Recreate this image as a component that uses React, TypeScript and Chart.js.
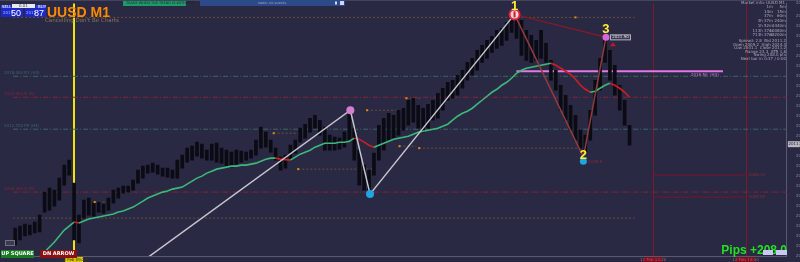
import React, { useEffect, useRef } from "react";
import { Chart, registerables } from "chart.js";
Chart.register(...registerables);

// ---------- DATA ----------
const barHigh = [
  2002.8, 2003.0, 2003.2, 2003.1, 2003.4, 2004.1, 2006.4, 2006.8, 2006.6, 2007.8,
  2009.1, 2009.6, 2007.3, 2004.1, 2005.6, 2005.8, 2005.3, 2005.4, 2005.2, 2005.8,
  2006.6, 2006.8, 2007.0, 2007.0, 2007.6, 2008.6, 2009.0, 2009.1, 2009.3, 2009.1,
  2008.8, 2008.8, 2008.6, 2009.6, 2010.1, 2010.8, 2011.0, 2011.4, 2011.2, 2010.6,
  2011.2, 2011.3, 2010.8, 2010.6, 2010.4, 2010.6, 2010.5, 2010.4, 2010.6, 2011.6,
  2012.9, 2012.4, 2011.6, 2010.8, 2009.9, 2010.1, 2011.1, 2011.6, 2012.8, 2013.2,
  2013.8, 2014.1, 2013.6, 2012.9, 2012.1, 2011.9, 2011.8, 2012.4, 2014.3, 2012.8,
  2010.6, 2009.1, 2008.6, 2010.3, 2013.1, 2013.8, 2014.3, 2014.1, 2014.6, 2014.8,
  2015.6, 2015.8, 2015.1, 2014.8, 2015.2, 2015.6, 2016.3, 2016.8, 2017.4, 2017.6,
  2018.1, 2018.6, 2019.4, 2019.8, 2020.6, 2021.1, 2021.6, 2022.0, 2022.6, 2022.8,
  2023.4, 2024.2, 2024.4, 2023.6, 2022.6, 2022.1, 2021.6, 2022.6, 2021.3, 2019.6,
  2018.6, 2017.1, 2016.1, 2015.1, 2014.1, 2012.6, 2012.1, 2014.6, 2017.6, 2019.8,
  2021.8, 2020.6, 2019.1, 2017.1, 2015.6, 2013.1,
];
const barLow = [
  2001.1, 2001.6, 2002.0, 2002.1, 2002.3, 2002.4, 2004.4, 2004.6, 2005.0, 2005.6,
  2007.1, 2008.1, 2001.6, 2001.3, 2003.8, 2004.1, 2004.0, 2004.4, 2004.3, 2004.6,
  2005.3, 2005.8, 2006.3, 2006.4, 2006.6, 2007.3, 2007.8, 2008.3, 2008.4, 2008.2,
  2008.0, 2007.9, 2007.8, 2007.8, 2008.8, 2009.4, 2009.6, 2010.0, 2009.8, 2009.6,
  2009.6, 2009.4, 2009.3, 2009.0, 2008.9, 2009.2, 2009.4, 2009.6, 2009.8, 2010.1,
  2010.8, 2010.9, 2010.4, 2009.6, 2008.6, 2008.8, 2009.6, 2010.3, 2011.4, 2011.8,
  2012.4, 2012.8, 2012.1, 2010.6, 2010.6, 2010.6, 2010.7, 2010.9, 2011.6, 2009.6,
  2007.1, 2006.6, 2006.4, 2008.1, 2009.6, 2010.6, 2011.6, 2011.8, 2012.1, 2012.6,
  2013.1, 2013.4, 2012.8, 2012.4, 2012.8, 2013.6, 2013.8, 2014.6, 2015.6, 2015.8,
  2016.1, 2016.8, 2017.6, 2018.1, 2018.6, 2019.4, 2019.8, 2020.4, 2020.8, 2021.1,
  2021.6, 2022.4, 2021.8, 2020.1, 2019.6, 2019.4, 2019.6, 2019.8, 2019.4, 2017.6,
  2016.6, 2014.6, 2013.6, 2012.6, 2011.6, 2010.8, 2010.4, 2011.6, 2014.1, 2016.6,
  2019.4, 2017.6, 2016.1, 2014.6, 2013.1, 2011.1,
];
const maStart = 4;
const maValues = [
  1999.4, 1999.9, 2000.4, 2000.9, 2001.4, 2002.0, 2002.6, 2003.0, 2003.4, 2003.3,
  2003.5, 2003.7, 2003.8, 2003.9, 2004.0, 2004.1, 2004.2, 2004.4, 2004.5, 2004.7,
  2004.9, 2005.2, 2005.5, 2005.8, 2006.0, 2006.2, 2006.4, 2006.5, 2006.7, 2006.8,
  2006.9, 2007.2, 2007.5, 2007.8, 2008.0, 2008.3, 2008.5, 2008.7, 2008.8, 2008.9,
  2009.0, 2009.0, 2009.1, 2009.1, 2009.2, 2009.3, 2009.5, 2009.7, 2009.8, 2009.8,
  2009.7, 2009.65, 2009.6, 2009.9, 2010.2, 2010.4, 2010.6, 2010.9, 2011.1, 2011.3,
  2011.3, 2011.3, 2011.4, 2011.4, 2011.5, 2011.8, 2011.7, 2011.4, 2011.1, 2010.9,
  2011.1, 2011.3, 2011.5, 2011.7, 2011.8, 2011.9, 2012.0, 2012.2, 2012.4, 2012.5,
  2012.6, 2012.7, 2012.8, 2013.0, 2013.2, 2013.6, 2014.0, 2014.3, 2014.5, 2014.8,
  2015.2, 2015.6, 2016.0, 2016.4, 2016.7, 2017.1, 2017.4, 2017.8, 2018.3, 2018.6,
  2018.8, 2018.9, 2019.0, 2019.1, 2019.2, 2019.3, 2019.1, 2018.8, 2018.5, 2018.2,
  2017.7, 2017.1, 2016.7, 2016.4, 2016.5, 2016.8, 2017.1, 2017.3, 2017.1, 2016.8,
  2016.4, 2015.9,
];
const zigzagWhiteX = [26, 68.2, 72.2, 101.6];
const zigzagWhiteY = [1999.5, 2014.6, 2006.2, 2024.2];
const zigzagBrownX = [101.6, 115.6, 120.2];
const zigzagBrownY = [2024.2, 2009.9, 2021.9];
const zigzagTopX = [101.6, 120.2];
const zigzagTopY = [2024.2, 2021.9];

const levelPrice = [2023.9, 2018.0, 2015.9, 2012.7, 2006.4, 2003.8, 2018.5, 2008.1, 2005.9, 2008.7, 2012.3, 2014.6, 2015.8, 2011.0, 2010.8, 2005.4];
const levelFrom = [-0.4, -0.4, -0.4, -0.4, -0.4, -0.4, 102, 129.8, 129.8, 57.6, 52.6, 71.6, 79.6, 78.2, 82.2, 16.2];
const levelTo = [126, 157, 157, 157, 157, 126, 144, 148.6, 148.6, 73.2, 57.6, 77.6, 82.6, 81.6, 115.2, 18.6];
const levelKind = ["dot", "teal", "red", "teal", "red", "dot", "pink", "darkred", "darkred", "dot", "dot", "dot", "dot", "dot", "dot", "dot"];
const levelLabel = ["", "2018.000 R1 (H4)", "2015.900 R (D)", "2012.700 PP (H4)", "2006.400 S (D)", "", "2018.50  (H4)", "2008.10", "2005.90", "", "", "", "", "", "", ""];

const verticalX = [12, 129.8, 148.6];
const verticalKind = ["yellow", "darkred", "darkred"];
const lastPrice = 2011.2;
const pips = "Pips +208.0";

const xTickLabels = [
  "12 Feb 09:00", "12 Feb 09:10", "12 Feb 09:20", "12 Feb 09:30", "12 Feb 09:40", "12 Feb 09:50",
  "12 Feb 10:00", "12 Feb 10:10", "12 Feb 10:20", "12 Feb 10:30", "12 Feb 10:40", "12 Feb 10:50",
  "12 Feb 11:00", "12 Feb 11:10", "12 Feb 11:20", "12 Feb 11:30", "12 Feb 11:40", "12 Feb 11:50",
  "12 Feb 12:00", "12 Feb 12:10", "12 Feb 12:20", "12 Feb 12:30", "12 Feb 12:40", "12 Feb 12:50",
  "12 Feb 13:00", "12 Feb 13:10", "12 Feb 13:20", "12 Feb 13:30", "12 Feb 13:40", "12 Feb 13:50",
  "12 Feb 14:00", "12 Feb 14:10",
];
const infoRows = [
  ["1m", "5m"], ["14m", "15m"], ["37m", "60m"], ["3h 37m", "240m"],
  ["1h 52m", "1440m"], ["113h 37m", "10080m"], ["713h 37m", "43200m"],
];
const infoLines = ["Spread: 2.8  Bid 2011.2", "Open 2009.2  High 2024.4", "Low 2001.1  Close 2011.2", "Range 23.3  ATR 1.8", "Swing 208.0 pts", "Next bar in 0:37 / 0:00"];

// ---------- STYLES ----------
const BG = "#2a2944";
const levelStyle: Record<string, { color: string; dash: number[]; width: number }> = {
  dot: { color: "#6a4f36", dash: [2, 2], width: 1 },
  teal: { color: "#3a6866", dash: [5, 2, 1, 2], width: 1 },
  red: { color: "#882236", dash: [5, 2, 1, 2], width: 1 },
  pink: { color: "#e27ae6", dash: [], width: 2 },
  darkred: { color: "#7a1628", dash: [], width: 1 },
};
const vStyle: Record<string, { color: string; width: number }> = {
  yellow: { color: "#f2e600", width: 2 },
  darkred: { color: "#7c1a2c", width: 1 },
};

const overlay = {
  id: "overlay",
  beforeDraw(chart: any) {
    const c = chart.ctx;
    c.save();
    c.fillStyle = BG;
    c.fillRect(0, 0, chart.width, chart.height);
    c.fillStyle = "#44445c";
    c.fillRect(0, 0, chart.width, 1);
    c.restore();
  },
  beforeDatasetsDraw(chart: any) {
    const c = chart.ctx;
    const xs = chart.scales.x, ys = chart.scales.y, a = chart.chartArea;
    c.save();
    verticalX.forEach((v, k) => {
      const st = vStyle[verticalKind[k]];
      const x = Math.round(xs.getPixelForValue(v)) + (st.width === 1 ? 0.5 : 0);
      c.strokeStyle = st.color;
      c.lineWidth = st.width;
      c.beginPath();
      c.moveTo(x, a.top);
      c.lineTo(x, k === 0 ? chart.height : a.bottom);
      c.stroke();
    });
    c.font = "4px 'DejaVu Sans'";
    c.textBaseline = "bottom";
    levelLabel.forEach((t, k) => {
      if (!t) return;
      const y = ys.getPixelForValue(levelPrice[k]);
      const st = levelStyle[levelKind[k]];
      c.fillStyle = st.color;
      if (levelKind[k] === "pink") {
        c.textBaseline = "top";
        c.fillText(t, xs.getPixelForValue(levelTo[k]) - 32, y + 2);
        c.textBaseline = "bottom";
      } else if (levelKind[k] === "darkred") {
        c.fillStyle = "#8c2a3a";
        c.fillText(t, xs.getPixelForValue(levelTo[k]) + 3, y + 2);
      } else {
        c.fillText(t, 4, y - 1);
      }
    });
    c.restore();
  },
  afterDatasetsDraw(chart: any) {
    const c = chart.ctx;
    const xs = chart.scales.x, ys = chart.scales.y;
    const P = (i: number, p: number) => [xs.getPixelForValue(i), ys.getPixelForValue(p)];
    c.save();
    c.fillStyle = "#e08a10";
    for (let k = 9; k < levelPrice.length; k++) {
      const [x, y] = P(levelFrom[k], levelPrice[k]);
      c.fillRect(x - 1, y - 1, 2, 2);
    }
    const [ox, oy] = P(114, levelPrice[0]);
    c.fillRect(ox - 1, oy - 1, 2, 2);
    let [x, y] = P(zigzagWhiteX[1], zigzagWhiteY[1]);
    c.fillStyle = "#d47ed2";
    c.beginPath(); c.arc(x, y, 4, 0, Math.PI * 2); c.fill();
    [x, y] = P(zigzagWhiteX[2], zigzagWhiteY[2]);
    c.fillStyle = "#1ca6e2";
    c.beginPath(); c.arc(x, y, 4, 0, Math.PI * 2); c.fill();
    [x, y] = P(zigzagBrownX[0], zigzagBrownY[0]);
    c.fillStyle = "#f4d0d8";
    c.beginPath(); c.arc(x, y, 5, 0, Math.PI * 2); c.fill();
    c.strokeStyle = "#e0203c"; c.lineWidth = 2;
    c.beginPath(); c.arc(x, y, 5, 0, Math.PI * 2); c.stroke();
    c.fillStyle = "#c02030";
    c.fillRect(x - 1, y - 3, 2, 6);
    c.font = "bold 13px 'Liberation Sans'";
    c.textAlign = "center"; c.textBaseline = "middle";
    c.fillStyle = "#ffee33";
    c.fillText("1", x, y - 8);
    [x, y] = P(zigzagBrownX[1], zigzagBrownY[1]);
    c.fillStyle = "#1ca6e2";
    c.beginPath(); c.arc(x, y + 4, 3.5, 0, Math.PI * 2); c.fill();
    c.fillStyle = "#ffee33";
    c.fillText("2", x, y - 2);
    c.font = "4px 'DejaVu Sans'";
    c.fillStyle = "#8c2a3a"; c.textAlign = "left";
    c.fillText("2009.9", x + 5, y + 5);
    [x, y] = P(zigzagBrownX[2], zigzagBrownY[2]);
    c.fillStyle = "#d468d8";
    c.beginPath(); c.arc(x, y, 3.5, 0, Math.PI * 2); c.fill();
    c.font = "bold 13px 'Liberation Sans'";
    c.textAlign = "center";
    c.fillStyle = "#ffee33";
    c.fillText("3", x, y - 8);
    c.fillStyle = "#3a3a50"; c.strokeStyle = "#b0b0c0"; c.lineWidth = 1;
    c.fillRect(x + 4, y - 3, 21, 6); c.strokeRect(x + 4.5, y - 2.5, 20, 5);
    c.font = "4px 'DejaVu Sans'"; c.fillStyle = "#e0e0e0";
    c.fillText("2021.90", x + 14.5, y);
    c.fillStyle = "#c01828";
    c.beginPath(); c.moveTo(x + 4, y + 9); c.lineTo(x + 7, y + 5); c.lineTo(x + 10, y + 9); c.fill();
    c.restore();
  },
  afterDraw(chart: any) {
    const c = chart.ctx;
    const xs = chart.scales.x, ys = chart.scales.y, a = chart.chartArea;
    c.save();
    verticalX.forEach((v, k) => {
      const x = xs.getPixelForValue(v);
      c.fillStyle = verticalKind[k] === "yellow" ? "#d6c800" : "#7a1020";
      c.fillRect(x - 9, a.bottom + 1, 18, 5);
      c.font = "4px 'DejaVu Sans'"; c.textAlign = "center"; c.textBaseline = "middle";
      c.fillStyle = verticalKind[k] === "yellow" ? "#403800" : "#c05060";
      c.fillText(xTickLabels[Math.round(v / 5)] || "", x, a.bottom + 3.5);
    });
    const ly = ys.getPixelForValue(lastPrice);
    c.fillStyle = "#b8b8c0";
    c.fillRect(a.right + 1, ly - 3, 12, 6);
    c.fillStyle = "#202030"; c.font = "4px 'DejaVu Sans'"; c.textAlign = "left";
    c.fillText(lastPrice.toFixed(2), a.right + 1.5, ly);
    c.fillStyle = "#1c28c8"; c.fillRect(1, 5, 22, 12); c.fillRect(25, 5, 21, 12);
    c.fillStyle = "#3040e0"; c.fillRect(1, 5, 10, 3); c.fillRect(36, 5, 10, 3);
    c.fillStyle = "#e8e8f0"; c.fillRect(12, 4, 23, 4);
    c.font = "4px 'DejaVu Sans'"; c.textBaseline = "middle";
    c.fillStyle = "#ffffff"; c.fillText("SELL", 2, 6.5); c.fillText("BUY", 38, 6.5);
    c.fillStyle = "#404040"; c.fillText("0.01", 19, 6);
    c.fillStyle = "#b0b8ff"; c.fillText("2011", 3, 13); c.fillText("2011", 26, 13);
    c.font = "9px 'Liberation Sans'"; c.fillStyle = "#ffffff"; c.textBaseline = "alphabetic";
    c.fillText("50", 11, 16); c.fillText("87", 34, 16);
    c.font = "bold 14px 'Liberation Sans'";
    c.fillStyle = "#ff8a00";
    c.fillText("UUSD M1", 47, 17);
    c.font = "5.5px 'DejaVu Sans'"; c.fillStyle = "#8a7658";
    c.fillText("Cancelling Don't Be Charts", 45, 22);
    c.fillStyle = "#1e9a6a"; c.fillRect(123, 1, 63, 5);
    c.font = "3.5px 'DejaVu Sans'"; c.fillStyle = "#0a3020"; c.textBaseline = "middle";
    c.fillText("TRADE WHEN THE TREND IS WITH YOU", 126, 3.5);
    c.fillStyle = "#2c4a8a"; c.fillRect(200, 0, 145, 6);
    c.fillStyle = "#8aa0d0"; c.textAlign = "center";
    c.fillText("news: no events", 272, 3);
    c.fillStyle = "#d0d8f0"; c.fillRect(335, 1.5, 2, 3); c.fillRect(340, 1, 4, 4);
    c.fillStyle = "#a8a8b8"; c.font = "4px 'DejaVu Sans'"; c.textAlign = "right";
    c.fillText("Market info: UUSD M1", 785, 2.5);
    infoRows.forEach((r, k) => {
      c.fillText(r[0], 773, 7 + k * 4.7);
      c.fillText(r[1], 786, 7 + k * 4.7);
    });
    infoLines.forEach((t, k) => c.fillText(t, 786, 41 + k * 3.6));
    c.fillStyle = "#1a7a24"; c.fillRect(1, 250, 33, 8);
    c.fillStyle = "#8a1212"; c.fillRect(40, 250, 37, 8);
    c.font = "bold 5px 'DejaVu Sans'"; c.fillStyle = "#ffffff"; c.textAlign = "center";
    c.fillText("UP SQUARE", 17.5, 254.2); c.fillText("DN ARROW", 58.5, 254.2);
    c.strokeStyle = "#707080"; c.lineWidth = 1; c.fillStyle = "#3a3a50";
    c.fillRect(5, 240, 10, 6); c.strokeRect(5.5, 240.5, 9, 5);
    c.font = "bold 12px 'Liberation Sans'"; c.fillStyle = "#22e022"; c.textAlign = "right";
    c.textBaseline = "alphabetic";
    c.fillText(pips, 787, 254);
    c.fillStyle = "#c8c8f4"; c.fillRect(763, 250, 10, 5); c.fillRect(776, 250, 11, 5);
    c.restore();
  },
};

export default function App() {
  const ref = useRef<HTMLCanvasElement>(null);
  useEffect(() => {
    if (!ref.current) return;
    const bars = barHigh.map((h, i) => ({ x: i, y: [barLow[i], h] }));
    const ma = maValues.map((v, k) => ({ x: k + maStart, y: v }));
    const pts = (xs: number[], ys: number[]) => xs.map((x, k) => ({ x, y: ys[k] }));
    const levelSets = levelPrice.map((p, k) => {
      const st = levelStyle[levelKind[k]];
      return {
        type: "line" as const,
        data: [{ x: levelFrom[k], y: p }, { x: levelTo[k], y: p }],
        borderColor: st.color,
        borderDash: st.dash,
        borderWidth: st.width,
        pointRadius: 0,
        order: 6,
      };
    });
    const chart = new Chart(ref.current, {
      type: "bar",
      data: {
        datasets: [
          { type: "line", data: pts(zigzagWhiteX, zigzagWhiteY), borderColor: "#c4c4cc", borderWidth: 1.5, pointRadius: 0, order: 1 } as any,
          { type: "line", data: pts(zigzagBrownX, zigzagBrownY), borderColor: "#8e3c3c", borderWidth: 1.5, pointRadius: 0, order: 1 },
          { type: "line", data: pts(zigzagTopX, zigzagTopY), borderColor: "#7e1a2a", borderWidth: 1.5, pointRadius: 0, order: 1 },
          {
            type: "line",
            data: ma,
            borderWidth: 1.6,
            pointRadius: 0,
            borderColor: "#3cb878",
            segment: {
              borderColor: (ctx: any) => (ctx.p1.parsed.y < ctx.p0.parsed.y ? "#d01c24" : "#3cb878"),
            },
            order: 2,
          },
          { type: "bar", data: bars as any, backgroundColor: "#0b0b14", barThickness: 3, order: 4 },
          ...levelSets,
        ] as any,
      },
      options: {
        animation: false,
        responsive: false,
        devicePixelRatio: 1,
        layout: { padding: { top: 3, left: 0, right: 0, bottom: 0 } },
        plugins: { legend: { display: false }, tooltip: { enabled: false } },
        scales: {
          x: {
            type: "linear",
            min: -0.4,
            max: 157,
            offset: false,
            grid: { display: false },
            border: { display: true, color: "#5a5a6e" },
            ticks: {
              stepSize: 5,
              autoSkip: false,
              maxRotation: 0,
              padding: 0,
              color: "#8a8a9a",
              font: { size: 4, family: "DejaVu Sans" },
              callback: (v: any) => xTickLabels[Math.round(v / 5)] || "",
            },
            afterFit: (s: any) => { s.height = 6; },
          },
          y: {
            position: "right",
            min: 2000.0,
            max: 2025.3,
            grid: { display: false },
            border: { display: true, color: "#5a5a6e" },
            ticks: {
              stepSize: 1,
              padding: 1,
              color: "#8a8a9a",
              font: { size: 4, family: "DejaVu Sans" },
              callback: (v: any) => Number(v).toFixed(2),
            },
            afterFit: (s: any) => { s.width = 13; },
          },
        },
      },
      plugins: [overlay],
    });
    return () => chart.destroy();
  }, []);
  return (
    <div style={{ position: "fixed", left: 0, top: 0, width: 800, height: 262, background: BG }}>
      <canvas ref={ref} width={800} height={262} style={{ display: "block" }} />
    </div>
  );
}
